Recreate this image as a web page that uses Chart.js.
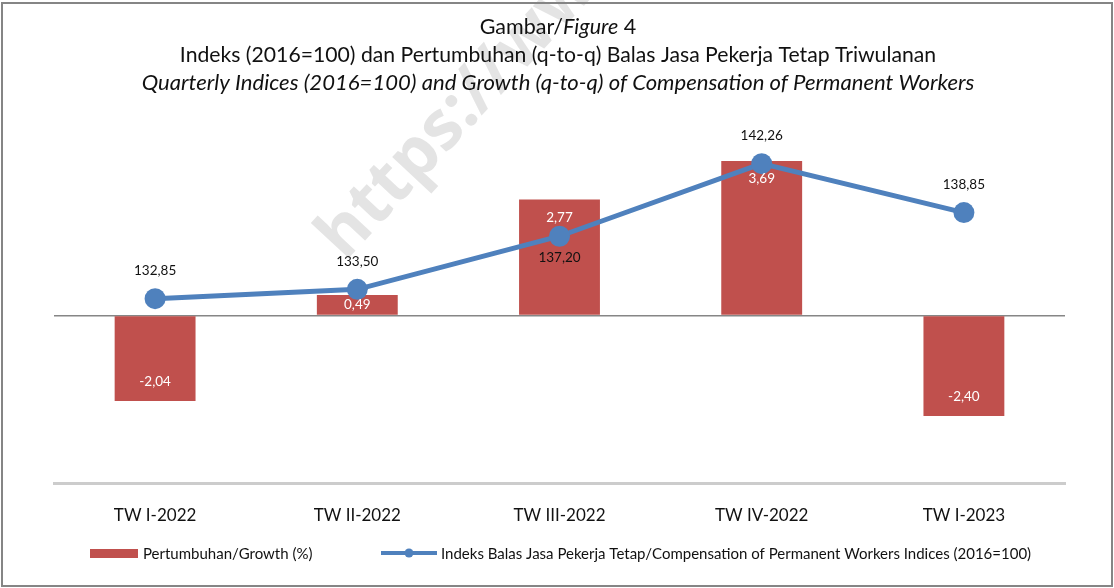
<!DOCTYPE html>
<html>
<head>
<meta charset="utf-8">
<script src="https://cdn.jsdelivr.net/npm/chart.js@4/dist/chart.umd.min.js"></script>
<style>
  body { margin: 0; background: #fff; }
  #wrap { width: 1114px; height: 588px; }
</style>
</head>
<body>
<div id="wrap"><canvas id="growthChart" width="1114" height="588"></canvas></div>
<script>
const categories = ['TW I-2022', 'TW II-2022', 'TW III-2022', 'TW IV-2022', 'TW I-2023'];
const growthValues = [-2.04, 0.49, 2.77, 3.69, -2.40];
const indexValues = [132.85, 133.50, 137.20, 142.26, 138.85];
const indexLabelSide = ['above', 'above', 'below', 'above', 'above'];

const growthLabel = 'Pertumbuhan/Growth (%)';
const indexLabel = 'Indeks Balas Jasa Pekerja Tetap/Compensation of Permanent Workers Indices (2016=100)';

const RED = '#c0504d';
const BLUE = '#4f81bd';
const FONT = 'Lato';

function fmt(v) {
    return v.toFixed(2).replace('.', ',');
}

// background, frame, watermark, title and legend
const decorations = {
    id: 'decorations',
    beforeDraw(chart) {
        const ctx = chart.ctx;
        ctx.save();
        ctx.fillStyle = '#fff';
        ctx.fillRect(0, 0, chart.width, chart.height);

        ctx.translate(345, 262);
        ctx.rotate(-47 * Math.PI / 180);
        ctx.font = 'bold 68px "Open Sans"';
        ctx.fillStyle = '#e4e4e4';
        ctx.textBaseline = 'alphabetic';
        ctx.fillText('https://www.bps.go.id', 0, 0);
        ctx.restore();
    },
    afterDraw(chart) {
        const ctx = chart.ctx;
        ctx.save();
        ctx.strokeStyle = '#858585';
        ctx.lineWidth = 2;
        ctx.strokeRect(2, 3, 1110, 583);

        // title
        ctx.fillStyle = '#111';
        ctx.textBaseline = 'middle';
        const cx = 558;
        const p1 = 'Gambar/', p2 = 'Figure', p3 = ' 4';
        ctx.font = '21.5px ' + FONT;
        const w1 = ctx.measureText(p1).width, w3 = ctx.measureText(p3).width;
        ctx.font = 'italic 21.5px ' + FONT;
        const w2 = ctx.measureText(p2).width;
        let x = cx - (w1 + w2 + w3) / 2;
        ctx.textAlign = 'left';
        ctx.font = '21.5px ' + FONT;
        ctx.fillText(p1, x, 27);
        ctx.font = 'italic 21.5px ' + FONT;
        ctx.fillText(p2, x + w1, 27);
        ctx.font = '21.5px ' + FONT;
        ctx.fillText(p3, x + w1 + w2, 27);

        ctx.textAlign = 'center';
        ctx.font = '21.2px ' + FONT;
        ctx.fillText('Indeks (2016=100) dan Pertumbuhan (q-to-q) Balas Jasa Pekerja Tetap Triwulanan', cx, 55);
        ctx.font = 'italic 22.1px ' + FONT;
        ctx.fillText('Quarterly Indices (2016=100) and Growth (q-to-q) of Compensation of Permanent Workers', cx, 83);

        // legend
        ctx.textAlign = 'left';
        ctx.font = '15px ' + FONT;
        ctx.fillStyle = RED;
        ctx.fillRect(90, 549, 48, 9);
        ctx.fillStyle = '#111';
        ctx.fillText(growthLabel, 143, 554);

        ctx.strokeStyle = BLUE;
        ctx.lineWidth = 4;
        ctx.beginPath();
        ctx.moveTo(381, 553);
        ctx.lineTo(437, 553);
        ctx.stroke();
        ctx.fillStyle = BLUE;
        ctx.beginPath();
        ctx.arc(409, 553, 4.5, 0, Math.PI * 2);
        ctx.fill();
        ctx.fillStyle = '#111';
        ctx.fillText(indexLabel, 441, 554);
        ctx.restore();
    }
};

// value labels on bars and points
const valueLabels = {
    id: 'valueLabels',
    afterDatasetsDraw(chart) {
        const ctx = chart.ctx;
        ctx.save();
        ctx.font = '13.5px ' + FONT;
        ctx.textAlign = 'center';
        ctx.textBaseline = 'middle';

        const bars = chart.getDatasetMeta(0).data;
        bars.forEach((el, i) => {
            const v = growthValues[i];
            const h = Math.abs(el.base - el.y);
            let y;
            if (h < 32) y = (el.y + el.base) / 2;
            else if (v >= 0) y = el.y + 18;
            else y = el.y - 19;
            ctx.fillStyle = '#fff';
            ctx.fillText(fmt(v), el.x, y);
        });

        const pts = chart.getDatasetMeta(1).data;
        pts.forEach((el, i) => {
            ctx.fillStyle = '#111';
            const y = indexLabelSide[i] === 'above' ? el.y - 28 : el.y + 21;
            ctx.fillText(fmt(indexValues[i]), el.x, y);
        });
        ctx.restore();
    }
};

const ctx = document.getElementById('growthChart').getContext('2d');
new Chart(ctx, {
    data: {
        labels: categories,
        datasets: [{
            type: 'bar',
            label: growthLabel,
            data: growthValues,
            backgroundColor: RED,
            yAxisID: 'y',
            order: 1,
            categoryPercentage: 0.8,
            barPercentage: 0.5
        }, {
            type: 'line',
            label: indexLabel,
            data: indexValues,
            borderColor: BLUE,
            backgroundColor: BLUE,
            borderWidth: 5,
            pointRadius: 10.5,
            pointHoverRadius: 10.5,
            pointBorderWidth: 0,
            yAxisID: 'y1',
            order: 0
        }]
    },
    options: {
        responsive: false,
        animation: false,
        layout: { padding: { left: 54, right: 49, top: 148, bottom: 0 } },
        plugins: {
            legend: { display: false },
            tooltip: { enabled: false }
        },
        scales: {
            x: {
                offset: true,
                grid: { display: false },
                border: { color: '#cccccc', width: 3 },
                ticks: { color: '#111', font: { family: FONT, size: 17 }, padding: 14 },
                afterFit(scale) { scale.height = 105; }
            },
            y: {
                min: -4,
                max: 4,
                ticks: { display: false, stepSize: 1 },
                border: { display: false },
                grid: {
                    drawTicks: false,
                    lineWidth: 1.5,
                    color: c => c.tick && c.tick.value === 0 ? '#868686' : 'rgba(0,0,0,0)'
                },
                afterFit(scale) { scale.width = 0; }
            },
            y1: {
                display: false,
                min: 120,
                max: 143.35
            }
        }
    },
    plugins: [decorations, valueLabels]
});
</script>
</body>
</html>
